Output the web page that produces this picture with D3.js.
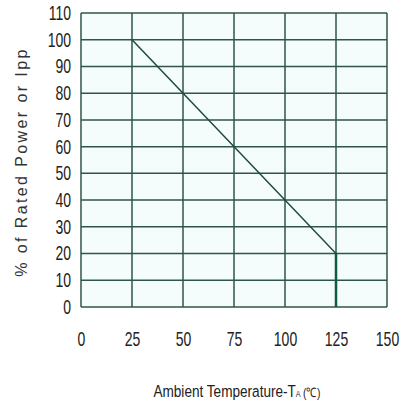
<!DOCTYPE html>
<html lang="en">
  <head>
    <meta charset="UTF-8" />
    <title>Derating curve</title>
    <script src="https://d3js.org/d3.v7.min.js"></script>
    <style>
      body { margin: 0; background: #fff; }
      .tick text { font-family: "Liberation Sans", Arial, sans-serif; }
    </style>
  </head>
  <body>
    <script>
      const xTicks = [0, 25, 50, 75, 100, 125, 150];
      const yTicks = [0, 10, 20, 30, 40, 50, 60, 70, 80, 90, 100, 110];
      const tempC = [25, 125, 125];
      const ratedPct = [100, 20, 0];

      const width = 404, height = 410;
      const margin = { left: 81, right: 17, top: 13, bottom: 103 };
      const gridColor = "#2e5648";

      const svg = d3.select("body").append("svg")
        .attr("width", width)
        .attr("height", height);

      const x = d3.scaleLinear().domain([0, 150]).range([margin.left, width - margin.right]);
      const y = d3.scaleLinear().domain([0, 110]).range([height - margin.bottom, margin.top]);

      svg.append("rect")
        .attr("x", x(0)).attr("y", y(110))
        .attr("width", x(150) - x(0)).attr("height", y(0) - y(110))
        .attr("fill", "#f5fcfc");

      // grid
      svg.append("g").selectAll("line").data(xTicks).enter().append("line")
        .attr("x1", d => x(d)).attr("x2", d => x(d))
        .attr("y1", y(0)).attr("y2", y(110))
        .attr("stroke", gridColor).attr("stroke-width", 1.5);
      svg.append("g").selectAll("line").data(yTicks).enter().append("line")
        .attr("x1", x(0)).attr("x2", x(150))
        .attr("y1", d => y(d)).attr("y2", d => y(d))
        .attr("stroke", gridColor).attr("stroke-width", 1.5);

      // tick labels, squeezed to look like a narrow face
      const yAxis = svg.append("g")
        .attr("transform", `translate(${x(0) - 10},0)`)
        .call(d3.axisLeft(y).tickValues(yTicks).tickSize(0).tickPadding(0));
      yAxis.select(".domain").remove();
      yAxis.selectAll("text").attr("font-size", 20).attr("fill", "#222")
        .attr("transform", "scale(0.7,1)");

      const xAxis = svg.append("g")
        .attr("transform", `translate(0,${y(0) + 25})`)
        .call(d3.axisBottom(x).tickValues(xTicks).tickSize(0).tickPadding(0));
      xAxis.select(".domain").remove();
      xAxis.selectAll("text").attr("font-size", 20).attr("fill", "#222")
        .attr("transform", "scale(0.7,1)");

      // curve
      const pts = tempC.map((t, i) => [t, ratedPct[i]]);
      svg.append("path")
        .datum(pts)
        .attr("d", d3.line().x(d => x(d[0])).y(d => y(d[1])))
        .attr("fill", "none")
        .attr("stroke", "#1f4a3c")
        .attr("stroke-width", 1.5);
      svg.append("line")
        .attr("x1", x(125)).attr("x2", x(125))
        .attr("y1", y(20)).attr("y2", y(0))
        .attr("stroke", "#0d5a45").attr("stroke-width", 2.5);

      // titles
      svg.append("text")
        .attr("transform", `translate(27,${(y(0) + y(110)) / 2 + 2}) rotate(-90)`)
        .attr("text-anchor", "middle")
        .attr("font-family", "Liberation Sans, Arial, sans-serif")
        .attr("font-size", 16)
        .attr("letter-spacing", 2.4)
        .attr("fill", "#333")
        .text("% of Rated Power or Ipp");

      const xt = svg.append("text")
        .attr("transform", "translate(237,397) scale(0.8,1)")
        .attr("text-anchor", "middle")
        .attr("font-family", "Liberation Sans, Arial, sans-serif")
        .attr("font-size", 17)
        .attr("fill", "#222");
      xt.append("tspan").text("Ambient Temperature-T");
      xt.append("tspan").attr("font-size", 9).text("A");
      xt.append("tspan").attr("font-size", 13).attr("dx", 3).text("(℃)");
    </script>
  </body>
</html>
